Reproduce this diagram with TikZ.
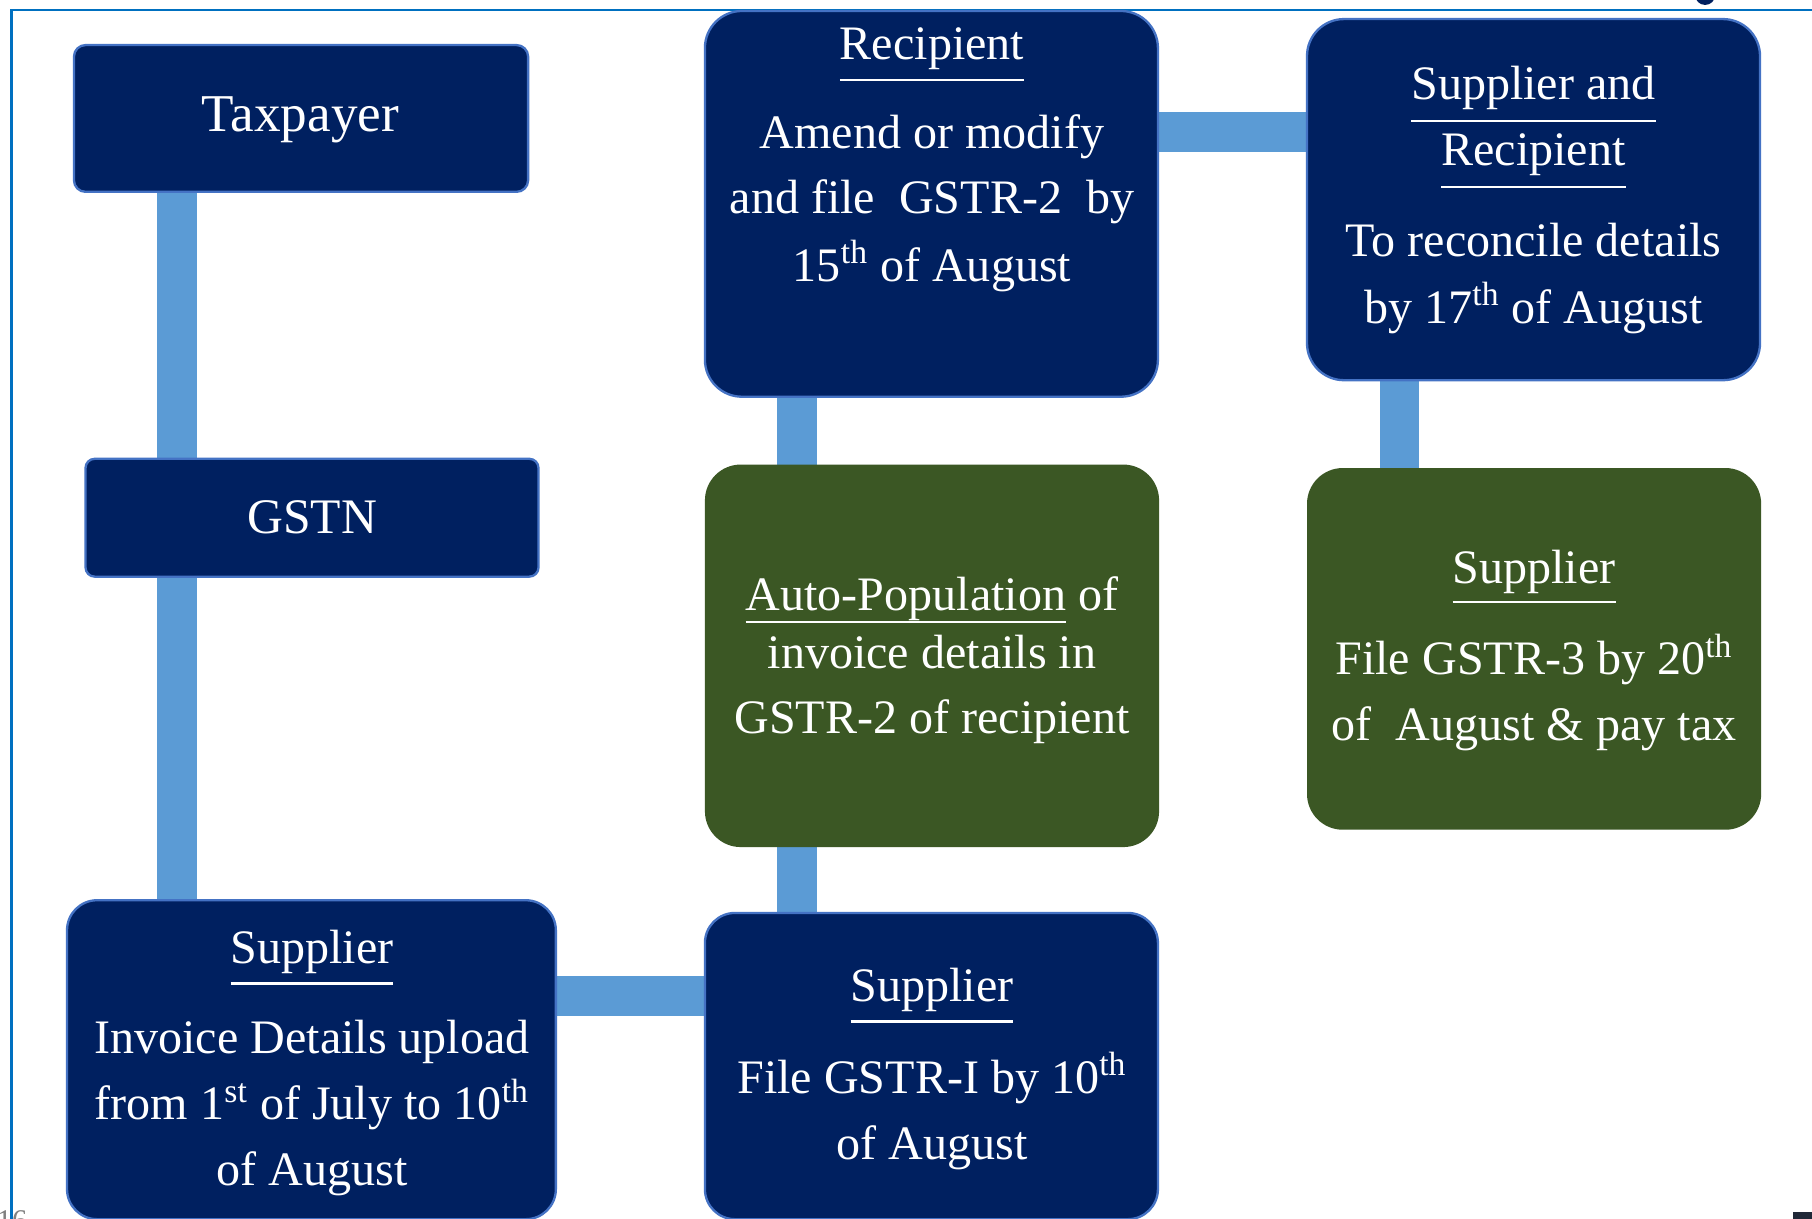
\documentclass[tikz,border=0pt]{standalone}
\usepackage{fontspec}
\setmainfont{Liberation Serif}
\usetikzlibrary{fit}
\definecolor{navy}{HTML}{002060}
\definecolor{edgeblue}{HTML}{4472C4}
\definecolor{connblue}{HTML}{5B9BD5}
\definecolor{framecol}{HTML}{0070C0}
\definecolor{boxgreen}{HTML}{3B5724}
\definecolor{cornerdark}{HTML}{202838}
\newcommand\hul[2][9.35pt]{\setbox0=\hbox{#2}\rlap{\rule[-#1]{\wd0}{1pt}}\box0\relax}
\pgfdeclarelayer{bg}
\pgfsetlayers{bg,main}
\begin{document}
\begin{tikzpicture}[x=0.5pt,y=-0.5pt,
  box/.style={draw=edgeblue, line width=1pt, fill=navy, inner sep=0pt, rounded corners=15pt},
  gbox/.style={box, draw=boxgreen, fill=boxgreen},
  txt/.style={text=white, inner sep=0pt, anchor=base, font=\fontsize{20.8}{25}\selectfont},
  conn/.style={connblue, line width=17.25pt},
  frameline/.style={framecol, line width=1.2pt}]
\useasboundingbox (0,0) rectangle (1568,1054);
\clip (0,0) rectangle (1568,1054);
\begin{pgfonlayer}{bg}
\fill[white] (0,0) rectangle (1568,1054);
\draw[frameline] (10,1100) -- (10,8.7) -- (1600,8.7);
\end{pgfonlayer}
\fill[navy] (1475.5,-4.4) circle[radius=4.35pt];
\fill[cornerdark] (1551.6,1049) rectangle (1570,1056);
\node[anchor=north west, inner sep=0pt, text=gray, font=\fontsize{13}{13}\selectfont] (pagenum) at (-3,1047) {16};

% boxes
\node[box, rounded corners=5pt, fit={(64,39)(457,166)}] (tax) {};
\node[box, rounded corners=4pt, fit={(74,397)(466,499)}] (gstn) {};
\node[box, rounded corners=13pt, fit={(58,779)(481,1055)}] (supbl) {};
\node[box, rounded corners=13pt, fit={(610,790)(1002,1055)}] (supbm) {};
\node[gbox, fit={(611,403)(1002,732)}] (auto) {};
\node[box, rounded corners=16pt, fit={(610,9.5)(1002,343.3)}] (rec) {};
\node[box, rounded corners=16pt, fit={(1131,16.5)(1523,329)}] (sr) {};
\node[gbox, fit={(1132,406)(1523,717)}] (supr) {};

% connectors
\coordinate (xa) at (153.5,0);
\coordinate (xb) at (690,0);
\coordinate (xc) at (1211,0);
\coordinate (ya) at (0,862);
\coordinate (yb) at (0,114);
\begin{pgfonlayer}{bg}
\draw[conn] (tax.south -| xa) -- (gstn.north -| xa);
\draw[conn] (gstn.south -| xa) -- (supbl.north -| xa);
\draw[conn] (supbl.east |- ya) -- (supbm.west |- ya);
\draw[conn] (supbm.north -| xb) -- (auto.south -| xb);
\draw[conn] (auto.north -| xb) -- (rec.south -| xb);
\draw[conn] (rec.east |- yb) -- (sr.west |- yb);
\draw[conn] (sr.south -| xc) -- (supr.north -| xc);
\end{pgfonlayer}

% texts
\node[txt, font=\fontsize{23}{25}\selectfont] (taxt) at (260,114) {Taxpayer};
\node[txt, font=\fontsize{21.5}{25}\selectfont] (gstnt) at (270,462) {GSTN};

\node[txt] (rec1) at (806.5,51.3) {\hul{Recipient}};
\node[txt] (rec2) at (806.5,128.4) {Amend or modify};
\node[txt] (rec3) at (806.5,184.6) {and file\ \ GSTR-2\ \ by};
\node[txt] (rec4) at (806.5,243.2) {15\textsuperscript{th} of August};

\node[txt] (sr1) at (1327,86.5) {\hul[9.7pt]{Supplier and}};
\node[txt] (sr2) at (1327,143.4) {\hul[9.7pt]{Recipient}};
\node[txt] (sr3) at (1327,222) {To reconcile details};
\node[txt] (sr4) at (1327,279.7) {by 17\textsuperscript{th} of August};

\node[txt] (au1) at (806.5,528) {\hul[5.5pt]{Auto-Population} of};
\node[txt] (au2) at (806.5,578.4) {invoice details in};
\node[txt] (au3) at (806.5,634.6) {GSTR-2 of recipient};

\node[txt] (sp1) at (1327.5,505) {\hul[8.5pt]{Supplier}};
\node[txt] (sp2) at (1327.5,584) {File GSTR-3 by 20\textsuperscript{th}};
\node[txt] (sp3) at (1327.5,641) {of\ \ August \& pay tax};

\node[txt] (bm1) at (806.5,867) {\hul[9pt]{Supplier}};
\node[txt] (bm2) at (806.5,946) {File GSTR-I by 10\textsuperscript{th}};
\node[txt] (bm3) at (806.5,1003) {of August};

\node[txt] (bl1) at (270,834) {\hul[9pt]{Supplier}};
\node[txt] (bl2) at (270,912) {Invoice Details upload};
\node[txt] (bl3) at (270,969) {from 1\textsuperscript{st} of July to 10\textsuperscript{th}};
\node[txt] (bl4) at (270,1026) {of August};
\end{tikzpicture}
\end{document}
